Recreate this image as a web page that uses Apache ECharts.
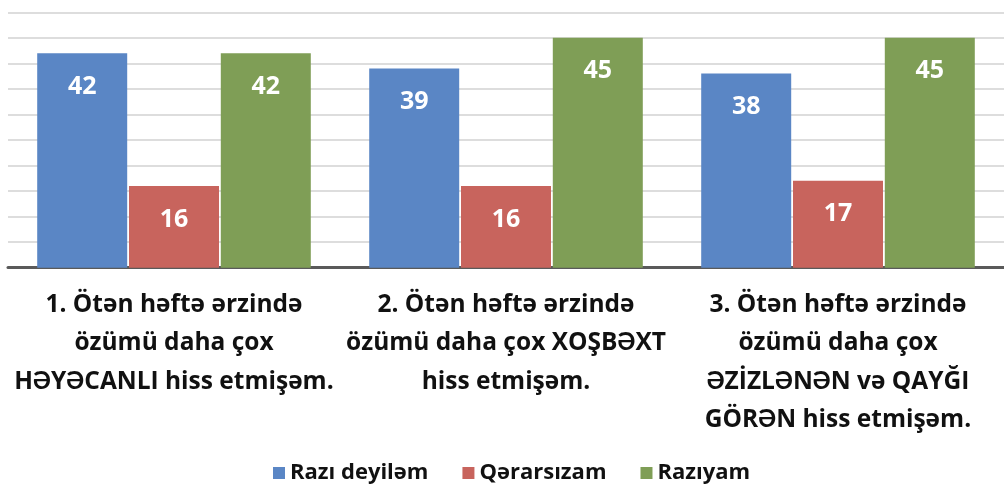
<!DOCTYPE html>
<html>
<head>
<meta charset="utf-8">
<script src="https://cdn.jsdelivr.net/npm/echarts@6/dist/echarts.min.js"></script>
<style>html,body{margin:0;padding:0;background:#fff}#c{width:1004px;height:484px}</style>
</head>
<body>
<div id="c"></div>
<script>
const categories = [
  "1. Ötən həftə ərzində\nözümü daha çox\nHƏYƏCANLI hiss etmişəm.",
  "2. Ötən həftə ərzində\nözümü daha çox XOŞBƏXT\nhiss etmişəm.",
  "3. Ötən həftə ərzində\nözümü daha çox\nƏZİZLƏNƏN və QAYĞI\nGÖRƏN hiss etmişəm."
];
const seriesNames = ["Razı deyiləm", "Qərarsızam", "Razıyam"];
const raziDeyilem = [42, 39, 38];
const qerarsizam = [16, 16, 17];
const raziyam = [42, 45, 45];
const colors = ["#5a86c5", "#c8645d", "#7f9e56"];

const FONT = "'Open Sans', Lato, sans-serif";
const chart = echarts.init(document.getElementById('c'), null, {renderer: 'canvas'});
const mk = (name, data, color) => ({
  name, type: 'bar', data,
  barWidth: 90, barGap: '2%',
  itemStyle: {color},
  label: {show: true, position: 'insideTop', distance: 21, color: '#fff',
          fontFamily: FONT, fontWeight: 'bold', fontSize: 25}
});
chart.setOption({
  animation: false,
  color: colors,
  grid: {left: 8, top: 12.3, width: 1000, bottom: 216.3, containLabel: false},
  legend: {
    top: 457, left: 268, itemWidth: 12, itemHeight: 12, itemGap: 34,
    icon: 'rect',
    textStyle: {fontFamily: FONT, fontWeight: 'bold', fontSize: 22, color: '#111'},
    data: seriesNames
  },
  xAxis: {
    type: 'category', data: categories,
    axisLine: {lineStyle: {color: '#5a5a5a', width: 3}},
    axisTick: {show: false},
    axisLabel: {interval: 0, margin: 18, color: '#111', fontFamily: FONT, fontWeight: 'bold',
                fontSize: 24.5, lineHeight: 38.5, verticalAlign: 'top'}
  },
  yAxis: {
    type: 'value', min: 0, max: 50, interval: 5,
    axisLabel: {show: false}, axisLine: {show: false}, axisTick: {show: false},
    splitLine: {lineStyle: {color: '#d2d2d2', width: 1.5}}
  },
  series: [
    mk(seriesNames[0], raziDeyilem, colors[0]),
    mk(seriesNames[1], qerarsizam, colors[1]),
    mk(seriesNames[2], raziyam, colors[2])
  ]
});
</script>
</body>
</html>
